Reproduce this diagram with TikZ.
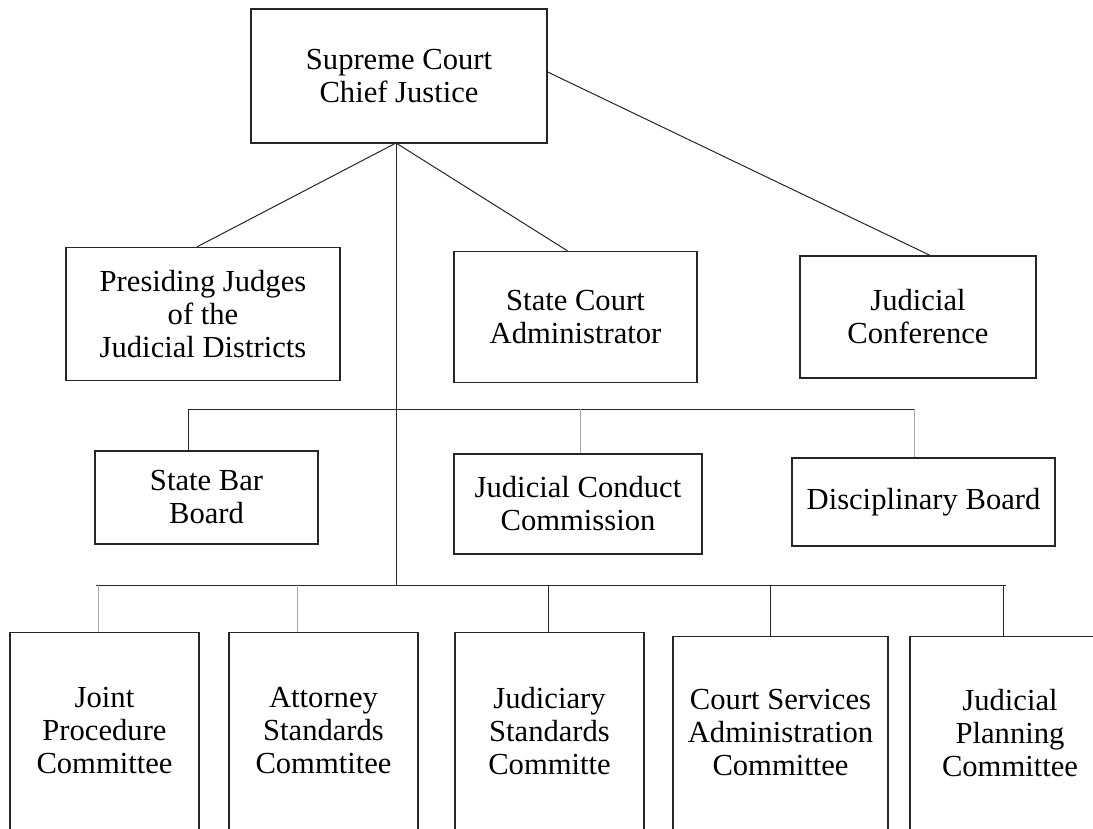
\documentclass[tikz,border=0pt]{standalone}
\usepackage{fontspec}
\setmainfont{Liberation Serif}
\usetikzlibrary{positioning}

\begin{document}
\begin{tikzpicture}[
        x=0.5pt, y=-0.5pt,
        every node/.style={font=\fontsize{15.3}{16.5}\selectfont, align=center},
        unit/.style={draw=black!85, line width=0.65pt, inner sep=0pt, text=black, fill=white},
        link/.style={draw=black!85, line width=0.5pt},
        faint/.style={draw=gray!70, line width=0.5pt}
    ]
        \clip (0,0) rectangle (1093,829);
        \useasboundingbox (0,0) rectangle (1093,829);

        \node[unit, minimum width=148pt, minimum height=67pt] (chief) at (399,76) {Supreme Court\\Chief Justice};
        \node[unit, minimum width=137pt, minimum height=66.5pt] (presiding) at (203,314) {Presiding Judges\\of the\\Judicial Districts};
        \node[unit, minimum width=121.5pt, minimum height=65.5pt] (admin) at (575.5,317) {State Court\\Administrator};
        \node[unit, minimum width=118pt, minimum height=61pt] (conference) at (918,317) {Judicial\\Conference};

        \node[unit, minimum width=111.5pt, minimum height=46.5pt] (statebar) at (206.5,497.5) {State Bar\\Board};
        \node[unit, minimum width=124pt, minimum height=50pt] (conduct) at (578,504) {Judicial Conduct\\Commission};
        \node[unit, minimum width=131.5pt, minimum height=44pt] (discipline) at (923.5,502) {Disciplinary Board};

        \node[unit, minimum width=94.5pt, minimum height=98.5pt] (joint) at (104.5,731) {Joint\\Procedure\\Committee};
        \node[unit, minimum width=94.5pt, minimum height=98.5pt] (attorney) at (323.5,731) {Attorney\\Standards\\Commtitee};
        \node[unit, minimum width=94.5pt, minimum height=98.5pt] (judiciary) at (549.5,731) {Judiciary\\Standards\\Committe};
        \node[unit, minimum width=107.5pt, minimum height=96.5pt] (services) at (780.5,733) {Court Services\\Administration\\Committee};
        \node[unit, minimum width=100pt, minimum height=96.5pt] (planning) at (1010,733) {Judicial\\Planning\\Committee};

        \coordinate (hub) at (396,143);
        \coordinate (bus2) at (396,409);
        \coordinate (bus3) at (396,585);

        \draw[link] (hub) -- ([xshift=-3pt]presiding.north);
        \draw[link] (hub) -- ([xshift=-4pt]admin.north);
        \draw[link] ([yshift=2pt]chief.east) -- ([xshift=6pt]conference.north);
        \draw[link] (hub) -- (bus3);

        \draw[link] ([xshift=-9.25pt]statebar.north |- bus2) -- ([xshift=-4.75pt]discipline.north |- bus2);
        \draw[link] ([xshift=-9.25pt]statebar.north) -- ([xshift=-9.25pt]statebar.north |- bus2);
        \draw[faint] ([xshift=1pt]conduct.north) -- ([xshift=1pt]conduct.north |- bus2);
        \draw[faint] ([xshift=-4.75pt]discipline.north) -- ([xshift=-4.75pt]discipline.north |- bus2);

        \draw[link] ([xshift=-4.25pt]joint.north |- bus3) -- ([xshift=-2pt]planning.north |- bus3);
        \draw[faint] ([xshift=-3.25pt]joint.north) -- ([xshift=-3.25pt]joint.north |- bus3);
        \draw[faint] ([xshift=-13.25pt]attorney.north) -- ([xshift=-13.25pt]attorney.north |- bus3);
        \draw[link] ([xshift=-0.75pt]judiciary.north) -- ([xshift=-0.75pt]judiciary.north |- bus3);
        \draw[link] ([xshift=-5.25pt]services.north) -- ([xshift=-5.25pt]services.north |- bus3);
        \draw[link] ([xshift=-3.5pt]planning.north) -- ([xshift=-3.5pt]planning.north |- bus3);
    \end{tikzpicture}
\end{document}
